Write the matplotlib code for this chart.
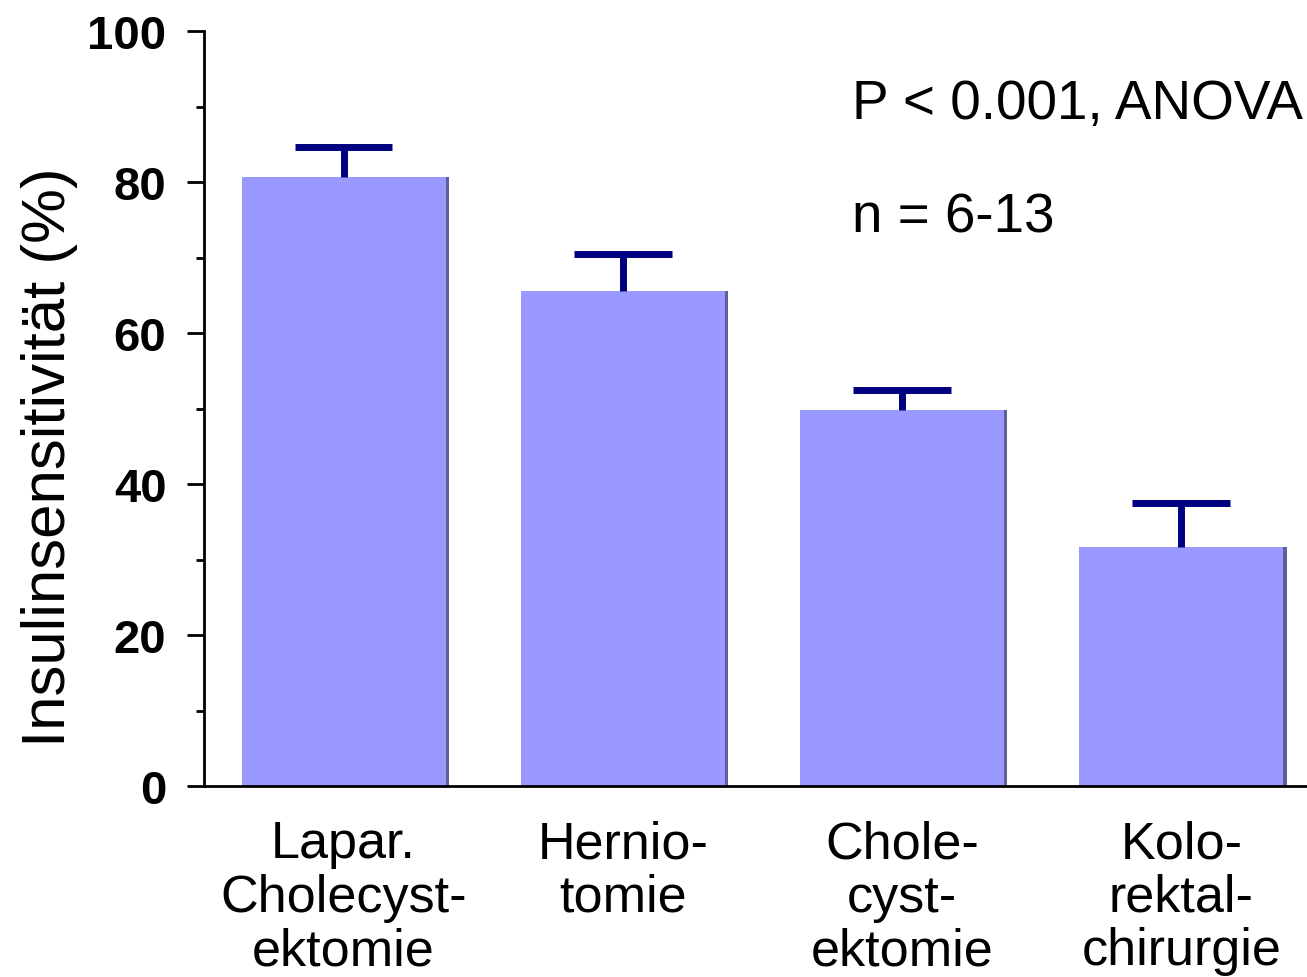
import matplotlib.pyplot as plt
from matplotlib.ticker import MultipleLocator

# Data
categories = ["Lapar.\nCholecyst-\nektomie", "Hernio-\ntomie", "Chole-\ncyst-\nektomie", "Kolo-\nrektal-\nchirurgie"]
means = [80.6, 65.6, 49.8, 31.6]
errors_up = [4.0, 4.8, 2.6, 5.9]

plt.rcParams['font.family'] = ['Liberation Sans', 'DejaVu Sans']

fig = plt.figure(figsize=(13.07, 9.78), dpi=100)
ax = fig.add_axes([204 / 1307, 1 - 787 / 978, 1 - 204 / 1307, (787 - 32) / 978])

x = list(range(len(categories)))
bar_w = 0.73
cap = 0.175
tops = [m + e for m, e in zip(means, errors_up)]

# subtle shadow on right/bottom edge of the bars
ax.bar([i + 0.012 for i in x], means, width=bar_w, color='#5f5f9a', zorder=1)
ax.bar(x, means, width=bar_w, color='#9999ff', zorder=2)
# upper error bars only (one cap)
ax.vlines(x, means, tops, color='#000080', linewidth=5, zorder=3)
ax.hlines(tops, [i - cap for i in x], [i + cap for i in x], color='#000080', linewidth=5, zorder=3)

ax.set_xlim(-0.5, 3.45)
ax.set_ylim(0, 100)
ax.yaxis.set_major_locator(MultipleLocator(20))
ax.yaxis.set_minor_locator(MultipleLocator(10))
ax.tick_params(axis='y', which='major', length=12, width=2, labelsize=34, pad=15)
ax.tick_params(axis='y', which='minor', length=6, width=2)
for lab in ax.get_yticklabels():
    lab.set_fontweight('bold')

ax.set_xticks(x)
ax.set_xticklabels(categories, fontsize=37.5, linespacing=1.12)
ax.tick_params(axis='x', length=0, pad=24)

for side in ['top', 'right']:
    ax.spines[side].set_visible(False)
ax.spines['left'].set_linewidth(2)
ax.spines['bottom'].set_linewidth(2)

ax.set_ylabel("Insulinsensitivität (%)", fontsize=44.5)
ax.yaxis.set_label_coords(-0.114, 0.437)

ax.text(1.82, 88.5, "P < 0.001, ANOVA", fontsize=39.5)
ax.text(1.82, 73.5, "n = 6-13", fontsize=39.5)

plt.savefig("out.png", dpi=100)
